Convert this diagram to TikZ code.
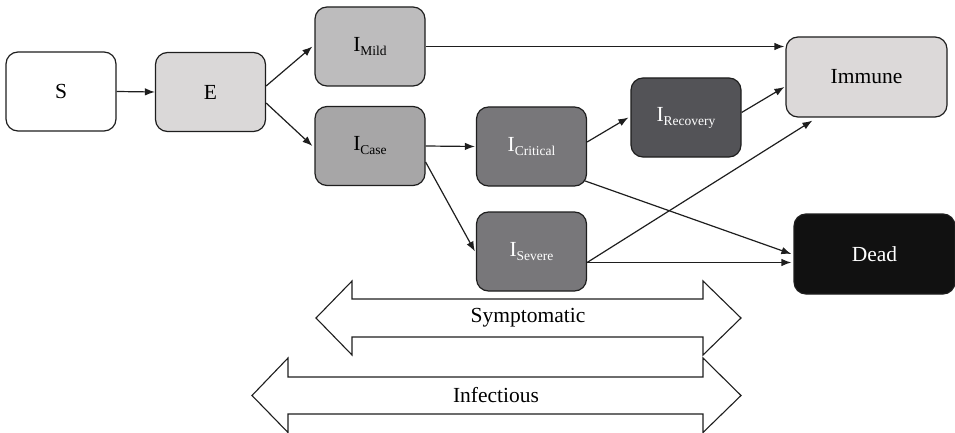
\documentclass[tikz,border=0pt]{standalone}
\usepackage{fontspec}
\setmainfont{Liberation Serif}
\usetikzlibrary{arrows.meta,calc}
\definecolor{cE}{HTML}{DAD8D8}
\definecolor{cMild}{HTML}{BDBCBD}
\definecolor{cCase}{HTML}{A7A6A7}
\definecolor{cCrit}{HTML}{78777A}
\definecolor{cRec}{HTML}{535357}
\definecolor{cImm}{HTML}{DCD9D9}
\definecolor{cDead}{HTML}{111111}
\definecolor{cLine}{HTML}{1E1E1E}
\newcommand\subx[1]{\raisebox{-4pt}{\fontsize{13.5}{13.5}\selectfont #1}}
\begin{document}
\begin{tikzpicture}[x=1pt,y=-1pt,
  box/.style={draw=cLine,line width=1.2pt,rounded corners=12pt,minimum width=110pt,minimum height=79pt,inner sep=0pt,font=\fontsize{21.5}{24}\selectfont},
  bigbox/.style={box,minimum width=161pt,minimum height=80pt},
  flow/.style={draw=cLine,line width=1.2pt,-{Latex[length=10pt,width=7.5pt]}},
  band/.style={draw=cLine,line width=1.1pt,fill=white,line join=miter},
  lbl/.style={font=\fontsize{21.5}{24}\selectfont,inner sep=0pt}]
\useasboundingbox (0,0) rectangle (955,433);
% nodes
\node[box,fill=white] (S) at (61,91.5) {S};
\node[box,fill=cE] (E) at (210.5,92) {E};
\node[box,fill=cMild] (Mild) at (370,46.5) {I\subx{Mild}};
\node[box,fill=cCase] (Case) at (370,146) {I\subx{Case}};
\node[box,fill=cCrit,text=white] (Crit) at (531.5,146.5) {I\subx{Critical}};
\node[box,fill=cCrit,text=white] (Sev) at (531.5,251.5) {I\subx{Severe}};
\node[box,fill=cRec,text=white] (Rec) at (686,117.5) {I\subx{Recovery}};
\node[bigbox,fill=cImm] (Imm) at (866.5,77) {Immune};
\node[bigbox,fill=cDead,text=white] (Dead) at (874.5,254) {Dead};
\coordinate (sevout) at ([yshift=-11pt]Sev.east);
% connectors
\draw[flow] (S.east) -- (E.west);
\draw[flow] ([yshift=6pt]E.east) -- ([xshift=-2pt]Mild.west);
\draw[flow] ([yshift=-11pt]E.east) -- ([xshift=-2pt]Case.west);
\draw[flow] (Mild.east) -- ([xshift=-1pt]Imm.west |- Mild.east);
\draw[flow] (Case.east) -- ([xshift=-1pt]Crit.west);
\draw[flow] ([yshift=-16pt]Case.east) -- ([xshift=-1pt]Sev.west);
\draw[flow] ([yshift=4.5pt]Crit.east) -- ([xshift=-2pt]Rec.west);
\draw[flow] ([yshift=5pt]Rec.east) -- ([xshift=-1pt,yshift=-10pt]Imm.west);
\draw[flow] ([xshift=-3pt,yshift=6pt]Crit.south east) -- ([xshift=-2pt]Dead.west);
\draw[flow] (sevout) -- ([xshift=27pt,yshift=-3pt]Imm.south west);
\draw[flow] (sevout) -- ([xshift=-2pt]Dead.west |- sevout);
% double arrows
\draw[band] (316,318) -- (352,281) -- (352,299) -- (703,299) -- (703,281) -- (741,318)
  -- (703,355) -- (703,337) -- (352,337) -- (352,355) -- cycle;
\node[lbl] (symp) at (528,318) {Symptomatic};
\draw[band] (252,395.5) -- (288,358) -- (288,377) -- (703,377) -- (703,358) -- (741,395.5)
  -- (703,432.5) -- (703,414) -- (288,414) -- (288,432.5) -- cycle;
\node[lbl] (inf) at (496,395.5) {Infectious};
\end{tikzpicture}
\end{document}
